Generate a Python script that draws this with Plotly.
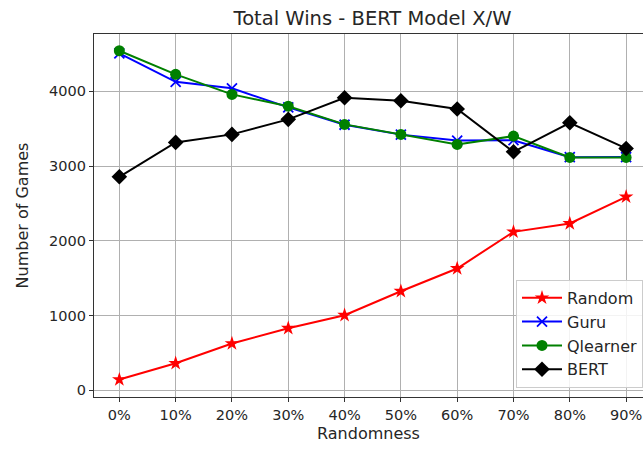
import plotly.graph_objects as go

categories = ["0%", "10%", "20%", "30%", "40%", "50%", "60%", "70%", "80%", "90%"]
random_wins = [143, 361, 625, 830, 1004, 1325, 1629, 2119, 2231, 2588]
guru_wins = [4507, 4127, 4039, 3785, 3552, 3420, 3340, 3345, 3118, 3120]
qlearner_wins = [4542, 4226, 3958, 3800, 3557, 3423, 3289, 3400, 3115, 3115]
bert_wins = [2856, 3316, 3423, 3624, 3913, 3873, 3762, 3190, 3578, 3235]

xs = list(range(len(categories)))

fig = go.Figure()
fig.add_trace(go.Scatter(x=xs, y=random_wins, name="Random", mode="lines+markers",
                         line=dict(color="red", width=2),
                         marker=dict(symbol="star", size=11, color="red")))
fig.add_trace(go.Scatter(x=xs, y=guru_wins, name="Guru", mode="lines+markers",
                         line=dict(color="blue", width=2),
                         marker=dict(symbol="x-thin-open", size=10, color="blue",
                                     line=dict(color="blue", width=1.8))))
fig.add_trace(go.Scatter(x=xs, y=qlearner_wins, name="Qlearner", mode="lines+markers",
                         line=dict(color="green", width=2),
                         marker=dict(symbol="circle", size=11, color="green")))
fig.add_trace(go.Scatter(x=xs, y=bert_wins, name="BERT", mode="lines+markers",
                         line=dict(color="black", width=2),
                         marker=dict(symbol="diamond", size=12, color="black")))

font = "DejaVu Sans, sans-serif"
fig.update_layout(
    width=643, height=453,
    margin=dict(l=94, r=0, t=34, b=56, autoexpand=False),
    paper_bgcolor="white", plot_bgcolor="white",
    font=dict(family=font, size=14.5, color="#262626"),
    title=dict(text="Total Wins - BERT Model X/W", x=372.5 / 643, xref="container",
               xanchor="center", y=1 - 18 / 453, yanchor="middle",
               font=dict(size=19.5, color="#262626")),
    showlegend=True,
    legend=dict(x=1.0, xanchor="right", y=0.025, yanchor="bottom",
                bgcolor="rgba(255,255,255,0.85)", bordercolor="#cccccc", borderwidth=1,
                font=dict(size=16), itemwidth=40, tracegroupgap=0),
)
fig.update_xaxes(
    range=[-0.45, 9.30], tickvals=xs, ticktext=categories,
    showgrid=True, gridcolor="#b0b0b0", gridwidth=1,
    showline=True, linecolor="#333", linewidth=1.2, mirror=True,
    ticks="outside", ticklen=4, tickcolor="#333",
    title=dict(text="Randomness", font=dict(size=16), standoff=6),
    zeroline=False,
)
fig.update_yaxes(
    range=[-90, 4766], tickvals=[0, 1000, 2000, 3000, 4000],
    showgrid=True, gridcolor="#b0b0b0", gridwidth=1,
    showline=True, linecolor="#333", linewidth=1.2, mirror=False,
    ticks="outside", ticklen=4, tickcolor="#333",
    title=dict(text="Number of Games", font=dict(size=16), standoff=16),
    zeroline=False,
)

fig.write_html("out.html", config={"displayModeBar": False},
               post_script="document.body.style.margin='0px';")
